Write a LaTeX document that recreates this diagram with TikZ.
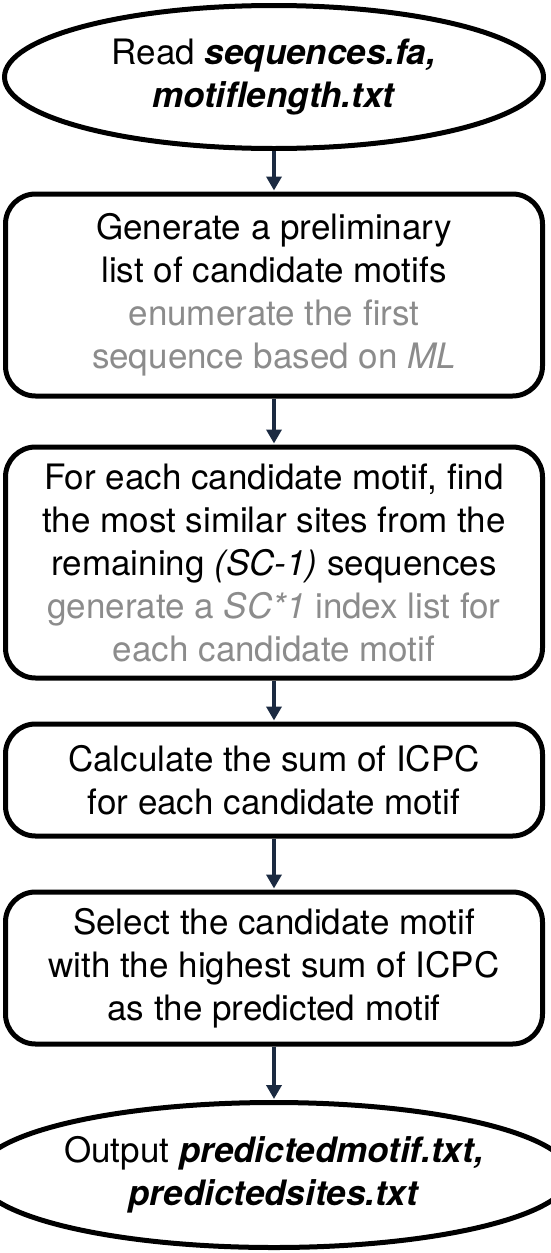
\documentclass[tikz,border=0pt]{standalone}
\usepackage{fontspec}
\setmainfont{TeX Gyre Heros}
\usetikzlibrary{shapes.geometric,arrows.meta}
\definecolor{navy}{HTML}{1B2A41}
\definecolor{note}{HTML}{8C8C8C}
\begin{document}
\begin{tikzpicture}[x=1pt,y=-1pt,
  txt/.style={font=\fontsize{35}{43}\selectfont, align=center, text=black, inner sep=0pt},
  stepbox/.style={txt, draw=black, line width=5pt, rounded corners=30pt, fill=white, minimum width=537pt},
  terminal/.style={txt, draw=black, line width=5pt, ellipse, fill=white, minimum width=539pt},
  flow/.style={navy, line width=4pt, -{Triangle[width=15pt,length=14pt]}, shorten >=1pt}]
  \useasboundingbox (0,0) rectangle (550,1253);

  \node[terminal, minimum height=143pt] (e1) at (274,77)
    {Read \textbf{\textit{sequences.fa,}}\\\textbf{\textit{motiflength.txt}}};

  \node[stepbox, minimum height=202pt] (b2) at (274,295)
    {Generate a preliminary\\list of candidate motifs\\
     \textcolor{note}{enumerate the first}\\
     \textcolor{note}{sequence based on \textit{ML}}};

  \node[stepbox, minimum height=231pt] (b3) at (274,562.5)
    {For each candidate motif, find\\the most similar sites from the\\
     remaining \textit{(SC-1)} sequences\\
     \textcolor{note}{generate a \textit{SC*1} index list for}\\
     \textcolor{note}{each candidate motif}};

  \node[stepbox, minimum height=112pt] (b4) at (274,780)
    {Calculate the sum of ICPC\\for each candidate motif};

  \node[stepbox, minimum height=152pt] (b5) at (274,968)
    {Select the candidate motif\\with the highest sum of ICPC\\as the predicted motif};

  \node[terminal, minimum height=145pt] (e2) at (274,1175)
    {Output \textbf{\textit{predictedmotif.txt,}}\\\textbf{\textit{predictedsites.txt}}};

  \draw[flow] (e1) -- (b2);
  \draw[flow] (b2) -- (b3);
  \draw[flow] (b3) -- (b4);
  \draw[flow] (b4) -- (b5);
  \draw[flow] (b5) -- (e2);
\end{tikzpicture}
\end{document}
